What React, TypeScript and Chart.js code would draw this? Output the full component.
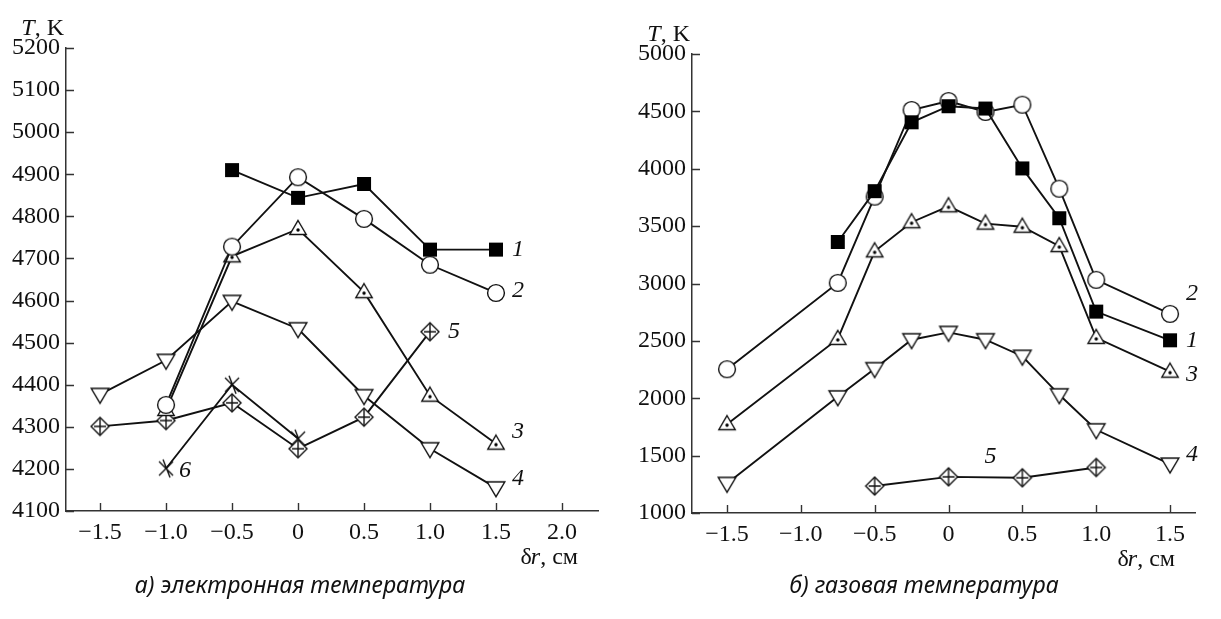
import React, { useEffect, useRef } from "react";
import { Chart, registerables } from "chart.js";

Chart.register(...registerables);

// ---- Electron temperature, T (K) versus radial offset δr (cm) ----
const electronX1 = [-0.5, 0, 0.5, 1.0, 1.5];
const electronT1 = [4910, 4844, 4877, 4721, 4721];
const electronX2 = [-1.0, -0.5, 0, 0.5, 1.0, 1.5];
const electronT2 = [4352, 4728, 4893, 4794, 4685, 4618];
const electronX3 = [-1.0, -0.5, 0, 0.5, 1.0, 1.5];
const electronT3 = [4340, 4705, 4770, 4620, 4374, 4260];
const electronX4 = [-1.5, -1.0, -0.5, 0, 0.5, 1.0, 1.5];
const electronT4 = [4377, 4458, 4598, 4533, 4374, 4248, 4155];
const electronX5 = [-1.5, -1.0, -0.5, 0, 0.5, 1.0];
const electronT5 = [4301, 4315, 4357, 4248, 4323, 4526];
const electronX6 = [-1.0, -0.5, 0];
const electronT6 = [4201, 4400, 4272];

const electronXTicks = [-1.5, -1.0, -0.5, 0, 0.5, 1.0, 1.5, 2.0];
const electronYTicks = [4100, 4200, 4300, 4400, 4500, 4600, 4700, 4800, 4900, 5000, 5100, 5200];

// ---- Gas temperature, T (K) versus radial offset δr (cm) ----
const gasX1 = [-0.75, -0.5, -0.25, 0, 0.25, 0.5, 0.75, 1.0, 1.5];
const gasT1 = [3362, 3805, 4405, 4545, 4525, 4003, 3569, 2755, 2505];
const gasX2 = [-1.5, -0.75, -0.5, -0.25, 0, 0.25, 0.5, 0.75, 1.0, 1.5];
const gasT2 = [2253, 3005, 3757, 4512, 4590, 4495, 4558, 3826, 3032, 2735];
const gasX3 = [-1.5, -0.75, -0.5, -0.25, 0, 0.25, 0.5, 0.75, 1.0, 1.5];
const gasT3 = [1774, 2517, 3280, 3534, 3673, 3522, 3495, 3326, 2526, 2232];
const gasX4 = [-1.5, -0.75, -0.5, -0.25, 0, 0.25, 0.5, 0.75, 1.0, 1.5];
const gasT4 = [1258, 2012, 2258, 2510, 2574, 2510, 2366, 2030, 1725, 1426];
const gasX5 = [-0.5, 0, 0.5, 1.0];
const gasT5 = [1235, 1315, 1307, 1397];

const gasXTicks = [-1.5, -1.0, -0.5, 0, 0.5, 1.0, 1.5];
const gasYTicks = [1000, 1500, 2000, 2500, 3000, 3500, 4000, 4500, 5000];

const seriesNames = ["1", "2", "3", "4", "5", "6"];

const SERIF = "'Liberation Serif', 'DejaVu Serif', serif";
const INK = "#111";
const FONT_PX = 24;

// ---- marker glyphs ----
function makeMarker(kind: string): HTMLCanvasElement {
  const s = 24;
  const c = document.createElement("canvas");
  c.width = s;
  c.height = s;
  const g = c.getContext("2d")!;
  const m = s / 2;
  g.lineWidth = 1.4;
  g.strokeStyle = INK;
  g.fillStyle = "#fff";
  if (kind === "square") {
    g.fillStyle = "#000";
    g.fillRect(m - 7, m - 7, 14, 14);
  } else if (kind === "circle") {
    g.beginPath();
    g.arc(m, m, 8.4, 0, Math.PI * 2);
    g.fill();
    g.stroke();
  } else if (kind === "triDot") {
    g.beginPath();
    g.moveTo(m, m - 8.5);
    g.lineTo(m + 8.2, m + 5.5);
    g.lineTo(m - 8.2, m + 5.5);
    g.closePath();
    g.fill();
    g.stroke();
    g.fillStyle = "#000";
    g.beginPath();
    g.arc(m, m + 1, 1.7, 0, Math.PI * 2);
    g.fill();
  } else if (kind === "triDown") {
    g.beginPath();
    g.moveTo(m - 8.8, m - 6);
    g.lineTo(m + 8.8, m - 6);
    g.lineTo(m, m + 8.8);
    g.closePath();
    g.fill();
    g.stroke();
  } else if (kind === "diamondPlus") {
    g.beginPath();
    g.moveTo(m, m - 9);
    g.lineTo(m + 9, m);
    g.lineTo(m, m + 9);
    g.lineTo(m - 9, m);
    g.closePath();
    g.fill();
    g.stroke();
    g.beginPath();
    g.moveTo(m, m - 9);
    g.lineTo(m, m + 9);
    g.moveTo(m - 6, m);
    g.lineTo(m + 6, m);
    g.stroke();
  } else if (kind === "cross") {
    g.beginPath();
    g.moveTo(m - 7, m - 7);
    g.lineTo(m + 7, m + 7);
    g.moveTo(m + 7, m - 7);
    g.lineTo(m - 7, m + 7);
    g.moveTo(m - 3, m - 9);
    g.lineTo(m + 4, m + 9);
    g.stroke();
  }
  return c;
}

function fmtX(v: number): string {
  if (v === 0) return "0";
  return (v < 0 ? "\u2212" : "") + Math.abs(v).toFixed(1);
}

// li: index of the point the series number is placed next to
type Series = { xs: number[]; ys: number[]; marker: string; name: string; li: number; dx: number; dy: number };

type PanelCfg = {
  series: Series[];
  xMin: number;
  xMax: number;
  xTicks: number[];
  yTicks: number[];
  area: { left: number; right: number; top: number; bottom: number };
  canvasLeft: number;
  width: number;
  height: number;
};

const decorPlugin = {
  id: "decor",
  afterDatasetsDraw(chart: any, _args: any, opts: any) {
    const { ctx, chartArea, scales } = chart;
    const xs = scales.x;
    const ys = scales.y;
    ctx.save();
    // inward tick marks
    ctx.strokeStyle = "#333";
    ctx.lineWidth = 1.4;
    ctx.beginPath();
    for (const v of opts.yTicks as number[]) {
      const py = Math.round(ys.getPixelForValue(v)) + 0.5;
      ctx.moveTo(chartArea.left, py);
      ctx.lineTo(chartArea.left + 8, py);
    }
    for (const v of opts.xTicks as number[]) {
      const px = Math.round(xs.getPixelForValue(v)) + 0.5;
      ctx.moveTo(px, chartArea.bottom);
      ctx.lineTo(px, chartArea.bottom - 8);
    }
    ctx.stroke();

    ctx.fillStyle = INK;
    ctx.textBaseline = "alphabetic";
    // y-axis title "T, K"
    {
      const right = chartArea.left - 2;
      const by = chartArea.top - 13;
      ctx.font = `${FONT_PX}px ${SERIF}`;
      ctx.textAlign = "right";
      ctx.fillText(", K", right, by);
      const w = ctx.measureText(", K").width;
      ctx.font = `italic ${FONT_PX}px ${SERIF}`;
      ctx.fillText("T", right - w, by);
    }
    // x-axis title "δr, см"
    {
      const right = chartArea.right - 20;
      const by = chartArea.bottom + 53;
      ctx.textAlign = "right";
      ctx.font = `${FONT_PX}px ${SERIF}`;
      ctx.fillText(", см", right, by);
      const w1 = ctx.measureText(", см").width;
      ctx.font = `italic ${FONT_PX}px ${SERIF}`;
      ctx.fillText("r", right - w1, by);
      const w2 = ctx.measureText("r").width;
      ctx.font = `${FONT_PX}px ${SERIF}`;
      ctx.fillText("δ", right - w1 - w2 + 1, by);
    }
    // series numbers beside their curves
    ctx.font = `italic ${FONT_PX}px ${SERIF}`;
    ctx.textAlign = "left";
    ctx.textBaseline = "middle";
    for (const s of opts.series as Series[]) {
      if (!s.name) continue;
      const px = xs.getPixelForValue(s.xs[s.li]);
      const py = ys.getPixelForValue(s.ys[s.li]);
      ctx.fillText(s.name, px + s.dx, py + s.dy);
    }
    ctx.restore();
  },
};

function Panel({ cfg }: { cfg: PanelCfg }) {
  const ref = useRef<HTMLCanvasElement>(null);
  useEffect(() => {
    const canvas = ref.current!;
    const xAxisH = 40;
    const yAxisW = cfg.area.left;
    const chart = new Chart(canvas, {
      type: "line",
      data: {
        datasets: cfg.series.map((s) => ({
          label: s.name,
          data: s.xs.map((x, i) => ({ x, y: s.ys[i] })),
          borderColor: INK,
          borderWidth: 1.9,
          backgroundColor: INK,
          pointStyle: makeMarker(s.marker) as any,
          pointRadius: 9,
          pointHoverRadius: 9,
          tension: 0,
          fill: false,
        })),
      },
      options: {
        responsive: false,
        animation: false,
        events: [],
        layout: {
          padding: {
            left: 0,
            right: cfg.width - cfg.area.right,
            top: cfg.area.top,
            bottom: cfg.height - cfg.area.bottom - xAxisH,
          },
        },
        plugins: {
          legend: { display: false },
          tooltip: { enabled: false },
          decor: { xTicks: cfg.xTicks, yTicks: cfg.yTicks, series: cfg.series },
        } as any,
        scales: {
          x: {
            type: "linear",
            min: cfg.xMin,
            max: cfg.xMax,
            afterBuildTicks: (sc: any) => {
              sc.ticks = cfg.xTicks.map((v) => ({ value: v }));
            },
            afterFit: (sc: any) => {
              sc.height = xAxisH;
            },
            grid: { display: true, drawOnChartArea: false, drawTicks: false },
            border: { display: true, color: "#333", width: 1.5 },
            ticks: {
              padding: 7,
              color: INK,
              font: { family: SERIF, size: FONT_PX },
              callback: (v: any) => fmtX(Number(v)),
              maxRotation: 0,
              autoSkip: false,
            },
          },
          y: {
            type: "linear",
            min: cfg.yTicks[0],
            max: cfg.yTicks[cfg.yTicks.length - 1],
            afterBuildTicks: (sc: any) => {
              sc.ticks = cfg.yTicks.map((v) => ({ value: v }));
            },
            afterFit: (sc: any) => {
              sc.width = yAxisW;
            },
            grid: { display: true, drawOnChartArea: false, drawTicks: false },
            border: { display: true, color: "#333", width: 1.5 },
            ticks: {
              padding: 6,
              color: INK,
              font: { family: SERIF, size: FONT_PX },
              callback: (v: any) => String(v),
              autoSkip: false,
            },
          },
        },
      },
      plugins: [decorPlugin],
    });
    return () => chart.destroy();
  }, [cfg]);
  return (
    <canvas
      ref={ref}
      width={cfg.width}
      height={cfg.height}
      style={{ position: "absolute", left: cfg.canvasLeft, top: 0, width: cfg.width, height: cfg.height }}
    />
  );
}

const electronCfg: PanelCfg = {
  series: [
    { xs: electronX1, ys: electronT1, marker: "square", name: seriesNames[0], li: 4, dx: 16, dy: 0 },
    { xs: electronX2, ys: electronT2, marker: "circle", name: seriesNames[1], li: 5, dx: 16, dy: -2 },
    { xs: electronX3, ys: electronT3, marker: "triDot", name: seriesNames[2], li: 5, dx: 16, dy: -12 },
    { xs: electronX4, ys: electronT4, marker: "triDown", name: seriesNames[3], li: 6, dx: 16, dy: -9 },
    { xs: electronX5, ys: electronT5, marker: "diamondPlus", name: seriesNames[4], li: 5, dx: 18, dy: 0 },
    { xs: electronX6, ys: electronT6, marker: "cross", name: seriesNames[5], li: 0, dx: 13, dy: 2 },
  ],
  xMin: -1.758,
  xMax: 2.273,
  xTicks: electronXTicks,
  yTicks: electronYTicks,
  area: { left: 66, right: 598, top: 48, bottom: 511 },
  canvasLeft: 0,
  width: 610,
  height: 619,
};

const gasCfg: PanelCfg = {
  series: [
    { xs: gasX1, ys: gasT1, marker: "square", name: seriesNames[0], li: 8, dx: 16, dy: 0 },
    { xs: gasX2, ys: gasT2, marker: "circle", name: seriesNames[1], li: 9, dx: 16, dy: -20 },
    { xs: gasX3, ys: gasT3, marker: "triDot", name: seriesNames[2], li: 9, dx: 16, dy: 3 },
    { xs: gasX4, ys: gasT4, marker: "triDown", name: seriesNames[3], li: 9, dx: 16, dy: -9 },
    { xs: gasX5, ys: gasT5, marker: "diamondPlus", name: seriesNames[4], li: 1, dx: 36, dy: -20 },
  ],
  xMin: -1.737,
  xMax: 1.669,
  xTicks: gasXTicks,
  yTicks: gasYTicks,
  area: { left: 82, right: 585, top: 54, bottom: 513 },
  canvasLeft: 610,
  width: 611,
  height: 619,
};

const captionStyle: React.CSSProperties = {
  position: "absolute",
  top: 568,
  fontFamily: "'Noto Sans', 'Open Sans', sans-serif",
  fontStyle: "italic",
  fontSize: 23,
  color: "#111",
  textAlign: "center",
  whiteSpace: "nowrap",
};

export default function App() {
  useEffect(() => {
    document.body.style.margin = "0";
  }, []);
  return (
    <div style={{ position: "relative", width: 1221, height: 619, background: "#fff", overflow: "hidden" }}>
      <Panel cfg={electronCfg} />
      <Panel cfg={gasCfg} />
      <div style={{ ...captionStyle, left: 100, width: 400 }}>а) электронная температура</div>
      <div style={{ ...captionStyle, left: 724, width: 400 }}>б) газовая температура</div>
    </div>
  );
}
